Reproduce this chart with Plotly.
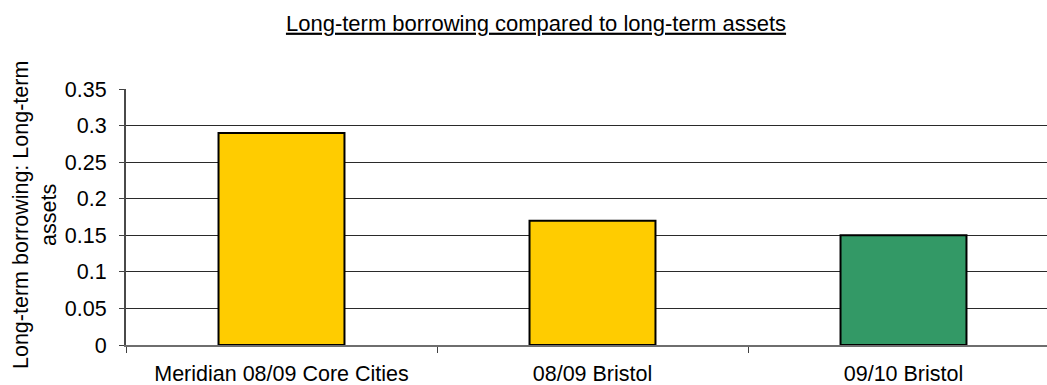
import plotly.graph_objects as go

# Ratio of long-term borrowing to long-term assets
categories = ["Meridian 08/09 Core Cities", "08/09 Bristol", "09/10 Bristol"]
ratios = [0.29, 0.17, 0.15]
bar_colors = ["#FFCC00", "#FFCC00", "#339966"]
y_ticks = [0, 0.05, 0.1, 0.15, 0.2, 0.25, 0.3, 0.35]
y_tick_text = ["0", "0.05", "0.1", "0.15", "0.2", "0.25", "0.3", "0.35"]

FONT = "Liberation Sans, Arial, sans-serif"
W, H = 1047, 385
L, R, T, B = 126, 0, 89, 40

fig = go.Figure(
    go.Bar(
        x=categories,
        y=ratios,
        marker=dict(color=bar_colors, line=dict(color="#000000", width=2)),
        width=0.405,
        hoverinfo="x+y",
    )
)

fig.update_layout(
    width=W,
    height=H,
    margin=dict(l=L, r=R, t=T, b=B, pad=0),
    paper_bgcolor="#FFFFFF",
    plot_bgcolor="#FFFFFF",
    font=dict(family=FONT, size=21.5, color="#000000"),
    showlegend=False,
    title=dict(
        text="<u>Long-term borrowing compared to long-term assets</u>",
        x=536 / W,
        xanchor="center",
        xref="container",
        y=1 - 23 / H,
        yanchor="middle",
        yref="container",
        font=dict(family=FONT, size=22, color="#000000"),
    ),
)

fig.update_xaxes(
    type="category",
    range=[-0.5, -0.5 + (W - L) / 311],
    showgrid=False,
    showline=True,
    linecolor="#6e6e6e",
    linewidth=2,
    ticks="outside",
    tickson="boundaries",
    ticklen=6,
    tickcolor="#404040",
    tickwidth=1,
    ticklabelstandoff=8,
    tickfont=dict(family=FONT, size=21.5, color="#000000"),
    zeroline=False,
)

fig.update_yaxes(
    range=[0, 0.35],
    tickmode="array",
    tickvals=y_ticks,
    ticktext=y_tick_text,
    showgrid=True,
    gridcolor="#2a2a2a",
    gridwidth=1,
    showline=True,
    linecolor="#4a4a4a",
    linewidth=2,
    ticks="outside",
    ticklen=5,
    tickcolor="#404040",
    tickwidth=1,
    ticklabelstandoff=8,
    tickfont=dict(family=FONT, size=21.5, color="#000000"),
    zeroline=False,
)

# Two-line rotated y-axis caption
fig.add_annotation(
    text="Long-term borrowing: Long-term<br>assets",
    xref="paper",
    yref="paper",
    x=(35 - L) / (W - L - R),
    y=0.5 + (217 - 215) / (H - T - B),
    xanchor="center",
    yanchor="middle",
    textangle=-90,
    showarrow=False,
    font=dict(family=FONT, size=21.5, color="#000000"),
)

fig.write_html("out.html")
